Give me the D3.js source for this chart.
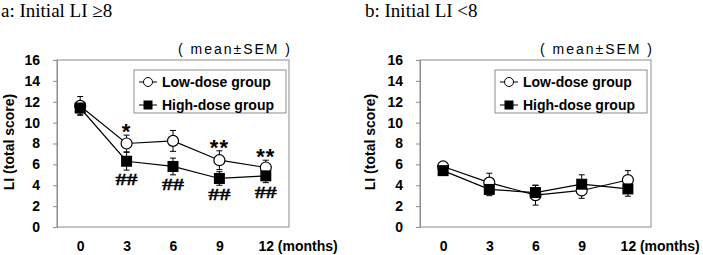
<!DOCTYPE html>
<html>
<head>
<meta charset="utf-8">
<script src="https://cdn.jsdelivr.net/npm/d3@7"></script>
<style>
  body { margin: 0; background: #fff; }
  svg { display: block; }
</style>
</head>
<body>
<div id="chart"></div>
<script>
// months on the x axis
var months = ["0", "3", "6", "9", "12"];
var yTicks = [0, 2, 4, 6, 8, 10, 12, 14, 16];

// panel a: initial LI >= 8
var lowA = [11.6, 8.0, 8.25, 6.4, 5.7];
var lowAErr = [0.9, 0.8, 1.0, 0.9, 0.7];
var highA = [11.4, 6.3, 5.8, 4.65, 4.9];
var highAErr = [0.6, 0.85, 0.8, 0.65, 0.65];
var starsA = ["", "*", "", "**", "**"];
var hashA = ["", "##", "##", "##", "##"];

// panel b: initial LI < 8
var lowB = [5.8, 4.25, 3.05, 3.5, 4.5];
var lowBErr = [0.3, 0.9, 0.95, 0.75, 0.9];
var highB = [5.4, 3.6, 3.3, 4.1, 3.65];
var highBErr = [0.3, 0.6, 0.7, 0.9, 0.7];

var svg = d3.select("#chart")
    .append("svg")
    .attr("width", 703)
    .attr("height", 255);

var sansBold = "'Liberation Sans', Arial, sans-serif";

function drawPanel(opt) {
    var g = svg.append("g");
    var left = opt.left, right = opt.right, top = 60, bottom = 227;

    var x = d3.scalePoint()
        .domain(months)
        .range([left, right])
        .padding(0.5);

    var y = d3.scaleLinear()
        .domain([0, 16])
        .range([bottom, top]);

    // title
    g.append("text")
        .attr("x", opt.titleX)
        .attr("y", 17)
        .attr("font-family", "'Liberation Serif', 'Times New Roman', serif")
        .attr("font-size", "19px")
        .attr("fill", "#000")
        .text(opt.title);

    // plot frame
    g.append("rect")
        .attr("x", left)
        .attr("y", top)
        .attr("width", right - left)
        .attr("height", bottom - top)
        .attr("fill", "none")
        .attr("stroke", "#8c8c8c")
        .attr("stroke-width", 1);

    // y axis
    var yAxis = d3.axisLeft(y)
        .tickValues(yTicks)
        .tickSize(4)
        .tickPadding(13);
    var gy = g.append("g")
        .attr("transform", "translate(" + left + ",0)")
        .call(yAxis);
    gy.select(".domain").attr("stroke", "#8c8c8c");
    gy.selectAll(".tick line").attr("stroke", "#8c8c8c");
    gy.selectAll(".tick text")
        .attr("font-family", sansBold)
        .attr("font-weight", "bold")
        .attr("font-size", "14px")
        .attr("fill", "#000");

    // x axis labels
    var xAxis = d3.axisBottom(x).tickSize(0).tickPadding(14);
    var gx = g.append("g")
        .attr("transform", "translate(0," + bottom + ")")
        .call(xAxis);
    gx.select(".domain").remove();
    gx.selectAll(".tick text")
        .attr("font-family", sansBold)
        .attr("font-weight", "bold")
        .attr("font-size", "14px")
        .attr("fill", "#000");

    g.append("text")
        .attr("x", x("12") + 12)
        .attr("y", 251)
        .attr("font-family", sansBold)
        .attr("font-weight", "bold")
        .attr("font-size", "14px")
        .text("(months)");

    // y axis title
    g.append("text")
        .attr("transform", "translate(" + opt.yTitleX + ",142) rotate(-90)")
        .attr("text-anchor", "middle")
        .attr("font-family", sansBold)
        .attr("font-weight", "bold")
        .attr("font-size", "14px")
        .text("LI (total score)");

    // mean ± SEM note
    g.append("text")
        .attr("x", right + 1)
        .attr("y", 54)
        .attr("text-anchor", "end")
        .attr("font-family", sansBold)
        .attr("font-size", "14px")
        .attr("textLength", 112)
        .attr("lengthAdjust", "spacing")
        .text("( mean\u00b1SEM )");

    // legend
    var lg = g.append("g");
    lg.append("rect")
        .attr("x", opt.legendX)
        .attr("y", 70)
        .attr("width", 152)
        .attr("height", 43)
        .attr("fill", "#fff")
        .attr("stroke", "#8c8c8c");
    var items = [
        { name: "Low-dose group", fill: "#fff", shape: "circle" },
        { name: "High-dose group", fill: "#000", shape: "square" }
    ];
    items.forEach(function (d, i) {
        var cy = 82 + i * 23;
        var lx = opt.legendX + 5;
        lg.append("line")
            .attr("x1", lx).attr("x2", lx + 18)
            .attr("y1", cy).attr("y2", cy)
            .attr("stroke", "#000");
        if (d.shape == "circle") {
            lg.append("circle")
                .attr("cx", lx + 9).attr("cy", cy).attr("r", 4.5)
                .attr("fill", "#fff").attr("stroke", "#000");
        } else {
            lg.append("rect")
                .attr("x", lx + 4.5).attr("y", cy - 4.5)
                .attr("width", 9).attr("height", 9)
                .attr("fill", "#000");
        }
        lg.append("text")
            .attr("x", lx + 23)
            .attr("y", cy + 5)
            .attr("font-family", sansBold)
            .attr("font-weight", "bold")
            .attr("font-size", "14px")
            .text(d.name);
    });

    var series = [
        { vals: opt.low, err: opt.lowErr, shape: "circle" },
        { vals: opt.high, err: opt.highErr, shape: "square" }
    ];

    var line = d3.line()
        .x(function (d, i) { return x(months[i]); })
        .y(function (d) { return y(d); });

    series.forEach(function (s) {
        // error bars
        s.vals.forEach(function (v, i) {
            var cx = x(months[i]);
            var y1 = y(v + s.err[i]), y2 = y(v - s.err[i]);
            g.append("line")
                .attr("x1", cx).attr("x2", cx)
                .attr("y1", y1).attr("y2", y2)
                .attr("stroke", "#000");
            [y1, y2].forEach(function (yy) {
                g.append("line")
                    .attr("x1", cx - 3).attr("x2", cx + 3)
                    .attr("y1", yy).attr("y2", yy)
                    .attr("stroke", "#000");
            });
        });
    });

    series.forEach(function (s) {
        g.append("path")
            .datum(s.vals)
            .attr("d", line)
            .attr("fill", "none")
            .attr("stroke", "#000")
            .attr("stroke-width", 1.2);
    });

    series.forEach(function (s) {
        s.vals.forEach(function (v, i) {
            var cx = x(months[i]), cy = y(v);
            if (s.shape == "circle") {
                g.append("circle")
                    .attr("cx", cx).attr("cy", cy).attr("r", 5.5)
                    .attr("fill", "#fff").attr("stroke", "#000")
                    .attr("stroke-width", 1.2);
            } else {
                g.append("rect")
                    .attr("x", cx - 5.5).attr("y", cy - 5.5)
                    .attr("width", 11).attr("height", 11)
                    .attr("fill", "#000");
            }
        });
    });

    // significance marks
    if (opt.stars) {
        opt.stars.forEach(function (t, i) {
            if (!t) return;
            var cy = y(opt.low[i] + opt.lowErr[i]) - 8;
            g.append("text")
                .attr("x", x(months[i]))
                .attr("y", cy + 12)
                .attr("text-anchor", "middle")
                .attr("font-family", sansBold)
                .attr("font-weight", "bold")
                .attr("font-size", "22px")
                .attr("letter-spacing", "1px")
                .text(t);
        });
        opt.hashes.forEach(function (t, i) {
            if (!t) return;
            var cy = y(opt.high[i] - opt.highErr[i]) + 9;
            g.append("text")
                .attr("transform", "translate(" + x(months[i]) + "," + (cy + 6) + ") scale(1.3,1)")
                .attr("text-anchor", "middle")
                .attr("font-family", "'Liberation Serif', serif")
                .attr("font-weight", "bold")
                .attr("font-size", "17px")
                .attr("stroke", "#000")
                .attr("stroke-width", 0.3)
                .text(t);
        });
    }
}

drawPanel({
    left: 57, right: 289, titleX: 1, yTitleX: 14, legendX: 134,
    title: "a: Initial LI \u22658",
    low: lowA, lowErr: lowAErr, high: highA, highErr: highAErr,
    stars: starsA, hashes: hashA
});

drawPanel({
    left: 420, right: 651, titleX: 365, yTitleX: 375, legendX: 495,
    title: "b: Initial LI <8",
    low: lowB, lowErr: lowBErr, high: highB, highErr: highBErr
});
</script>
</body>
</html>
